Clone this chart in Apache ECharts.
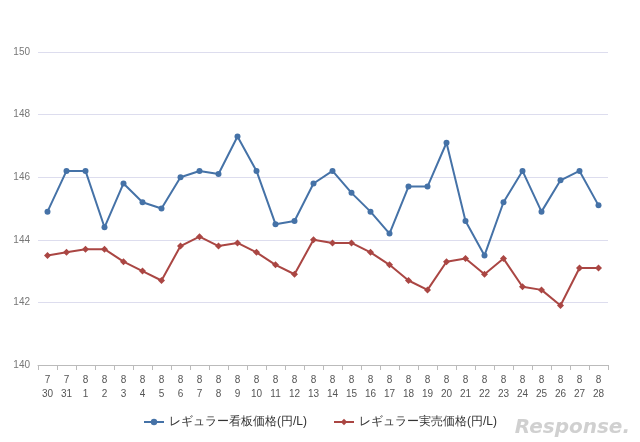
<!DOCTYPE html>
<html><head><meta charset="utf-8">
<script src="https://cdn.jsdelivr.net/npm/echarts@6/dist/echarts.min.js"></script>
<style>html,body{margin:0;padding:0;background:#fff}#c{width:640px;height:442px}</style>
</head><body><div id="c"></div>
<script>
const months = ['7','7','8','8','8','8','8','8','8','8','8','8','8','8','8','8','8','8','8','8','8','8','8','8','8','8','8','8','8','8'];
const days = ['30','31','1','2','3','4','5','6','7','8','9','10','11','12','13','14','15','16','17','18','19','20','21','22','23','24','25','26','27','28'];
const categories = months.map((m,i)=>m+'\n'+days[i]);
const signPrice = [144.9,146.2,146.2,144.4,145.8,145.2,145.0,146.0,146.2,146.1,147.3,146.2,144.5,144.6,145.8,146.2,145.5,144.9,144.2,145.7,145.7,147.1,144.6,143.5,145.2,146.2,144.9,145.9,146.2,145.1];
const actualPrice = [143.5,143.6,143.7,143.7,143.3,143.0,142.7,143.8,144.1,143.8,143.9,143.6,143.2,142.9,144.0,143.9,143.9,143.6,143.2,142.7,142.4,143.3,143.4,142.9,143.4,142.5,142.4,141.9,143.1,143.1];
const chart = echarts.init(document.getElementById('c'));
chart.setOption({
  animation:false,
  grid:{left:38,right:32,top:52,bottom:77},
  legend:{top:411,left:'center',itemGap:26,itemWidth:20,itemHeight:8,textStyle:{fontSize:12,color:'#333'},
    data:['レギュラー看板価格(円/L)','レギュラー実売価格(円/L)']},
  xAxis:{type:'category',data:categories,boundaryGap:true,
    axisLine:{lineStyle:{color:'#bbb'}},axisTick:{show:true,lineStyle:{color:'#bbb'}},
    axisLabel:{color:'#555',fontSize:10,lineHeight:14,interval:0}},
  yAxis:{type:'value',min:140,max:150,interval:2,
    axisLabel:{color:'#777',fontSize:10,formatter:v=>v},
    splitLine:{lineStyle:{color:'#dde'}},axisLine:{show:false},axisTick:{show:false}},
  series:[
    {name:'レギュラー看板価格(円/L)',type:'line',data:signPrice,symbol:'circle',symbolSize:6,
      itemStyle:{color:'#4572a7'},lineStyle:{width:2,color:'#4572a7'}},
    {name:'レギュラー実売価格(円/L)',type:'line',data:actualPrice,symbol:'diamond',symbolSize:7,
      itemStyle:{color:'#aa4643'},lineStyle:{width:2,color:'#aa4643'}}
  ],
  graphic:[{type:'text',right:10,bottom:4,style:{text:'Response.',fontSize:20,fontStyle:'italic',fontWeight:'bold',fill:'rgba(170,170,170,0.55)',fontFamily:'DejaVu Sans'}}]
});
</script></body></html>
